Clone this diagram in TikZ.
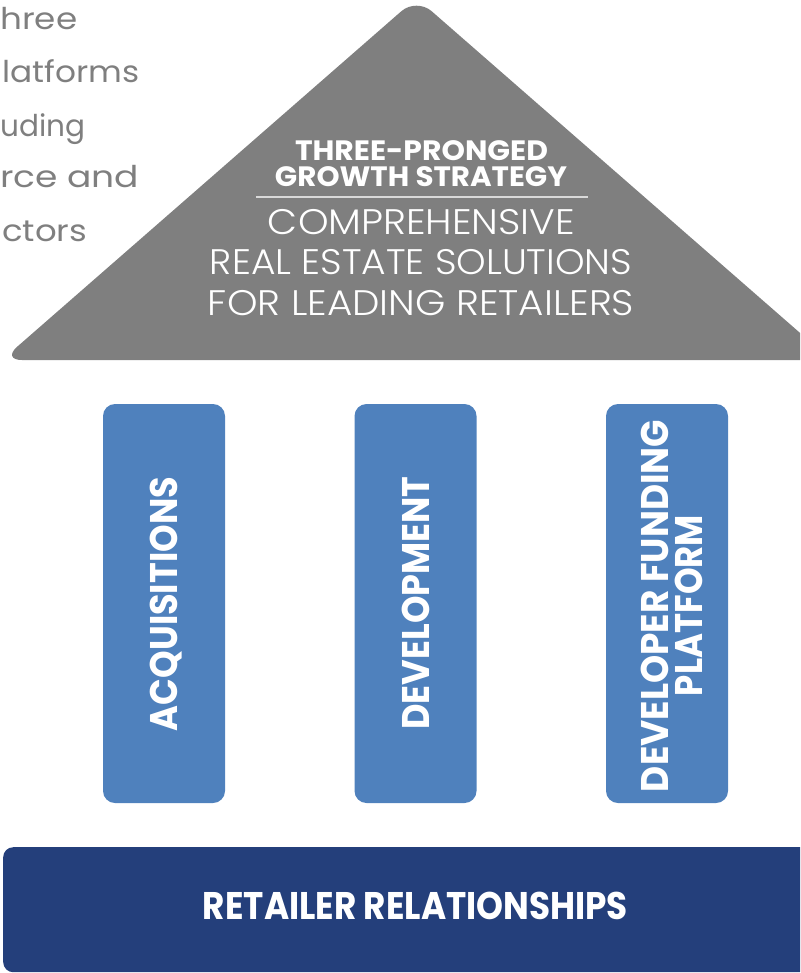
\documentclass[tikz,border=0pt]{standalone}
\usepackage{fontspec}
\usepackage{graphicx}
\setmainfont{Poppins}
\newfontfamily\lightfont{Poppins Light}
\definecolor{trigray}{HTML}{7F7F7F}
\definecolor{colblue}{HTML}{4F81BD}
\definecolor{navy}{HTML}{243F7B}
\definecolor{rulegray}{HTML}{D9D9D9}
\definecolor{sidegray}{HTML}{7F7F7F}
\newcommand{\fitw}[2]{\resizebox{#1}{\height}{#2}}
\tikzset{
  colbox/.style={fill=colblue, rounded corners=12pt, minimum width=122pt, minimum height=399pt, inner sep=0pt},
  boldlbl/.style={anchor=base, inner sep=0pt, text=white, font=\bfseries\fontsize{28}{28}\selectfont},
  lightlbl/.style={anchor=base, inner sep=0pt, text=white, font=\lightfont\fontsize{35.5}{35.5}\selectfont},
  collbl/.style={anchor=base, inner sep=0pt, text=white, rotate=90, font=\bfseries\fontsize{38.5}{38.5}\selectfont},
  sidelbl/.style={anchor=base west, inner sep=0pt, text=sidegray, font=\fontsize{30}{30}\selectfont}
}
\begin{document}
\begin{tikzpicture}[x=1pt,y=-1pt]
\useasboundingbox (0,0) rectangle (800,973);
\clip (0,0) rectangle (800,973);
% side text fragments
\node[sidelbl] (s1) at (0,30) {\fitw{77pt}{hree}};
\node[sidelbl] (s2) at (2,83) {\fitw{137pt}{latforms}};
\node[sidelbl] (s3) at (0,137) {\fitw{85pt}{uding}};
\node[sidelbl] (s4) at (0,188) {\fitw{139pt}{rce and}};
\node[sidelbl] (s5) at (2,242) {\fitw{85pt}{ctors}};
% roof
\fill[trigray, rounded corners=20pt] (416.5,-2) -- (831,360) -- (2,360) -- cycle;
\node[boldlbl] (t1) at (421.5,160.5) {\fitw{253pt}{THREE-PRONGED}};
\node[boldlbl] (t2) at (421,187) {\fitw{292pt}{GROWTH STRATEGY}};
\coordinate (rl) at (256,197);
\coordinate (rr) at (588,197);
\draw[rulegray, line width=2pt] (rl) -- (rr);
\node[lightlbl] (t3) at (421.5,235) {\fitw{307pt}{COMPREHENSIVE}};
\node[lightlbl] (t4) at (421,275) {\fitw{422pt}{REAL ESTATE SOLUTIONS}};
\node[lightlbl] (t5) at (421,315) {\fitw{426pt}{FOR LEADING RETAILERS}};
% pillars
\node[colbox] (acq) at (164,603.5) {};
\node[colbox] (dev) at (415.5,603.5) {};
\node[colbox] (dfp) at (667,603.5) {};
\node[collbl] (acqt) at (177,604) {\fitw{254pt}{ACQUISITIONS}};
\node[collbl] (devt) at (429,603) {\fitw{253pt}{DEVELOPMENT}};
\node[collbl] (dfpt1) at (668,606) {\fitw{372pt}{DEVELOPER FUNDING}};
\node[collbl] (dfpt2) at (702,605.5) {\fitw{181pt}{PLATFORM}};
% base
\node[fill=navy, rounded corners=10pt, minimum width=830pt, minimum height=125pt, inner sep=0pt, anchor=north west] (base) at (3,847) {};
\node[boldlbl, font=\bfseries\fontsize{38.5}{38.5}\selectfont] (baset) at (415.5,919) {\fitw{425pt}{RETAILER RELATIONSHIPS}};
\end{tikzpicture}
\end{document}
